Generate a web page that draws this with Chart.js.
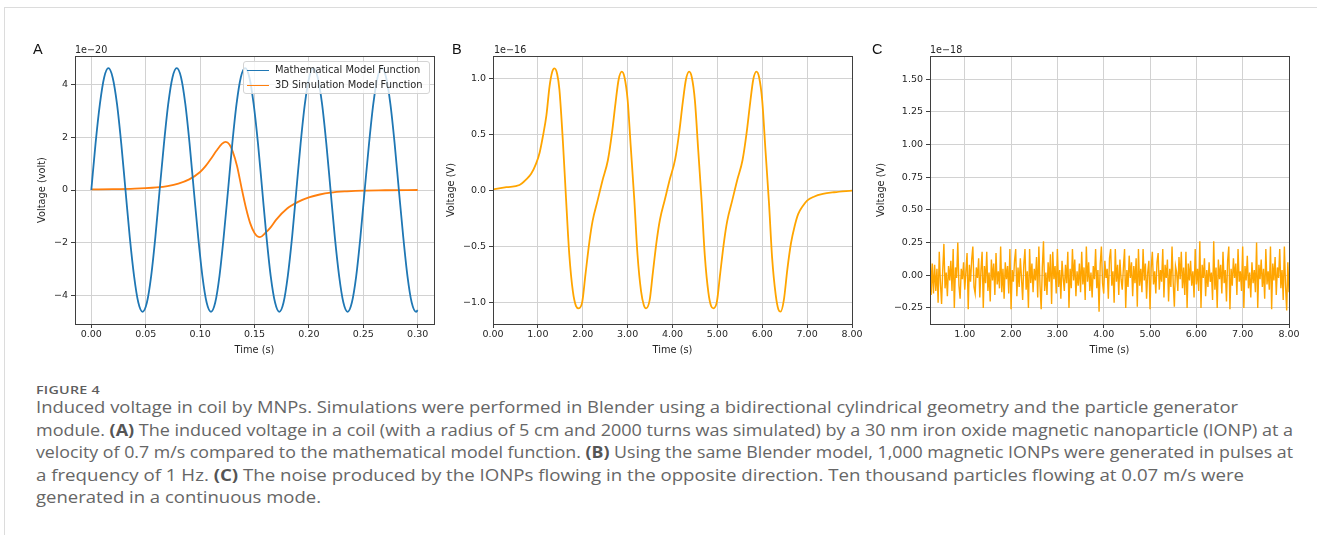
<!DOCTYPE html>
<html>
<head>
<meta charset="utf-8">
<script src="https://cdn.jsdelivr.net/npm/chart.js@4.4.0/dist/chart.umd.min.js"></script>
<style>
  html, body { margin: 0; padding: 0; background: #fff; }
  body { width: 1317px; height: 535px; position: relative; overflow: hidden; font-family: "DejaVu Sans", sans-serif; }
  .frame { position: absolute; left: 4px; top: 7px; width: 1330px; height: 540px; border-top: 1.5px solid #dcdcdc; border-left: 1.5px solid #dcdcdc; }
  canvas { position: absolute; }
  .panel { position: absolute; font-family: "Liberation Sans", Arial, sans-serif; font-size: 14.5px; line-height: 1; color: #111; }
  .offset { position: absolute; font-size: 9.6px; line-height: 1; color: #262626; }
  .legend { position: absolute; left: 243px; top: 61px; width: 185px; height: 31px; border: 1px solid #d4d4d4; border-radius: 3px; background: rgba(255,255,255,0.8); }
  .legend .sw { position: absolute; left: 3px; width: 22px; height: 0; border-top: 1.6px solid; }
  .legend .tx { position: absolute; left: 31px; font-size: 9.9px; line-height: 1; color: #262626; white-space: nowrap; }
  .cap, .caphead { position: absolute; left: 35.5px; white-space: nowrap; transform-origin: 0 0; font-family: "Open Sans", sans-serif; color: #666; }
  .caphead { font-size: 11.5px; font-weight: 600; line-height: 1; top: 384px; letter-spacing: 0.2px; color: #5e5e5e; }
  .cap { font-size: 16px; line-height: 22.5px; }
  .cap b { color: #555; font-weight: 700; }
</style>
</head>
<body>
<div class="frame"></div>

<canvas id="chartA" width="430" height="320" style="left:20px; top:40px;"></canvas>
<canvas id="chartB" width="430" height="320" style="left:440px; top:40px;"></canvas>
<canvas id="chartC" width="447" height="320" style="left:870px; top:40px;"></canvas>

<div class="panel" style="left:33px; top:42px;">A</div>
<div class="panel" style="left:452px; top:42px;">B</div>
<div class="panel" style="left:872px; top:42px;">C</div>
<div class="offset" style="left:75px; top:45px;">1e−20</div>
<div class="offset" style="left:494px; top:45px;">1e−16</div>
<div class="offset" style="left:930px; top:45px;">1e−18</div>

<div class="legend">
  <div class="sw" style="top:7.5px; border-color:#1f77b4;"></div>
  <div class="tx" style="top:3px;">Mathematical Model Function</div>
  <div class="sw" style="top:22.5px; border-color:#ff7f0e;"></div>
  <div class="tx" style="top:18px;">3D Simulation Model Function</div>
</div>

<div class="caphead" data-w="64">FIGURE 4</div>
<div class="cap" data-w="1202" style="top:396px;">Induced voltage in coil by MNPs. Simulations were performed in Blender using a bidirectional cylindrical geometry and the particle generator</div>
<div class="cap" data-w="1257" style="top:418.5px;">module. <b>(A)</b> The induced voltage in a coil (with a radius of 5 cm and 2000 turns was simulated) by a 30 nm iron oxide magnetic nanoparticle (IONP) at a</div>
<div class="cap" data-w="1257" style="top:441px;">velocity of 0.7 m/s compared to the mathematical model function. <b>(B)</b> Using the same Blender model, 1,000 magnetic IONPs were generated in pulses at</div>
<div class="cap" data-w="1208" style="top:463.5px;">a frequency of 1 Hz. <b>(C)</b> The noise produced by the IONPs flowing in the opposite direction. Ten thousand particles flowing at 0.07 m/s were</div>
<div class="cap" data-w="285" style="top:486px;">generated in a continuous mode.</div>

<script>
// ---- panel A: coil voltage, 1e-20 V ----
const mathTime = [0.0000, 0.0039, 0.0079, 0.0118, 0.0157, 0.0196, 0.0236, 0.0275, 0.0314, 0.0353, 0.0393, 0.0432, 0.0471, 0.0511, 0.0550, 0.0589,
                  0.0628, 0.0668, 0.0707, 0.0746, 0.0785, 0.0825, 0.0864, 0.0903, 0.0942, 0.0982, 0.1021, 0.1060, 0.1100, 0.1139, 0.1178, 0.1217,
                  0.1257, 0.1296, 0.1335, 0.1374, 0.1414, 0.1453, 0.1492, 0.1532, 0.1571, 0.1610, 0.1649, 0.1689, 0.1728, 0.1767, 0.1806, 0.1846,
                  0.1885, 0.1924, 0.1963, 0.2003, 0.2042, 0.2081, 0.2121, 0.2160, 0.2199, 0.2238, 0.2278, 0.2317, 0.2356, 0.2395, 0.2435, 0.2474,
                  0.2513, 0.2553, 0.2592, 0.2631, 0.2670, 0.2710, 0.2749, 0.2788, 0.2827, 0.2867, 0.2906, 0.2945, 0.2985, 0.3000];
const mathVolt = [0, 1.76, 3.25, 4.25, 4.60, 4.25, 3.25, 1.76, 0, -1.76, -3.25, -4.25, -4.60, -4.25, -3.25, -1.76,
                  0, 1.76, 3.25, 4.25, 4.60, 4.25, 3.25, 1.76, 0, -1.76, -3.25, -4.25, -4.60, -4.25, -3.25, -1.76,
                  0, 1.76, 3.25, 4.25, 4.60, 4.25, 3.25, 1.76, 0, -1.76, -3.25, -4.25, -4.60, -4.25, -3.25, -1.76,
                  0, 1.76, 3.25, 4.25, 4.60, 4.25, 3.25, 1.76, 0, -1.76, -3.25, -4.25, -4.60, -4.25, -3.25, -1.76,
                  0, 1.76, 3.25, 4.25, 4.60, 4.25, 3.25, 1.76, 0, -1.76, -3.25, -4.25, -4.60, -4.54];
const simTime = [0, 0.02, 0.04, 0.05, 0.06, 0.07, 0.08, 0.09, 0.10, 0.105, 0.11, 0.115, 0.12, 0.1235, 0.127, 0.13, 0.134,
                 0.138, 0.142, 0.146, 0.150, 0.155, 0.160, 0.165, 0.170, 0.180, 0.190, 0.200, 0.210, 0.220, 0.235, 0.250, 0.270, 0.300];
const simVolt = [0.02, 0.03, 0.05, 0.07, 0.10, 0.15, 0.24, 0.40, 0.68, 0.90, 1.18, 1.48, 1.74, 1.82, 1.72, 1.45, 0.90,
                 0.10, -0.65, -1.25, -1.62, -1.78, -1.62, -1.40, -1.12, -0.70, -0.45, -0.28, -0.17, -0.10, -0.05, -0.02, -0.01, 0.0];
const aTimeTicks = [0, 0.05, 0.10, 0.15, 0.20, 0.25, 0.30];
const aVoltTicks = [-4, -2, 0, 2, 4];

// ---- panel B: pulses, 1e-16 V ----
const pulseTime = [0.00, 0.30, 0.59, 0.74, 0.85, 0.96, 1.04, 1.11, 1.19, 1.26, 1.32, 1.37, 1.43, 1.48, 1.56, 1.63, 1.70, 1.78, 1.85, 1.91,
                   1.99, 2.06, 2.15, 2.22, 2.33, 2.44, 2.56, 2.65, 2.73, 2.80, 2.87, 2.93, 3.00, 3.07, 3.15, 3.22, 3.30, 3.36, 3.41,
                   3.49, 3.56, 3.65, 3.72, 3.83, 3.94, 4.06, 4.15, 4.23, 4.30, 4.37, 4.43, 4.50, 4.57, 4.65, 4.72, 4.80, 4.86, 4.91,
                   4.99, 5.06, 5.15, 5.22, 5.33, 5.44, 5.56, 5.65, 5.73, 5.80, 5.87, 5.93, 6.00, 6.07, 6.15, 6.22, 6.30, 6.36, 6.41,
                   6.48, 6.56, 6.64, 6.72, 6.80, 6.90, 7.00, 7.15, 7.35, 7.60, 8.00];
const pulseVolt = [0.01, 0.03, 0.05, 0.10, 0.15, 0.24, 0.34, 0.48, 0.67, 0.93, 1.06, 1.09, 1.04, 0.90, 0.42, -0.09, -0.57, -0.90, -1.03, -1.05,
                   -0.99, -0.75, -0.45, -0.27, -0.09, 0.09, 0.27, 0.51, 0.78, 0.99, 1.06, 1.01, 0.81, 0.39, -0.09, -0.57, -0.90, -1.02, -1.05,
                   -0.98, -0.74, -0.44, -0.26, -0.08, 0.10, 0.28, 0.52, 0.79, 0.99, 1.06, 1.01, 0.80, 0.38, -0.10, -0.58, -0.91, -1.03, -1.05,
                   -0.99, -0.75, -0.45, -0.27, -0.09, 0.09, 0.27, 0.51, 0.78, 0.99, 1.06, 1.01, 0.80, 0.37, -0.11, -0.60, -0.93, -1.06, -1.08,
                   -0.98, -0.70, -0.47, -0.32, -0.21, -0.14, -0.09, -0.055, -0.03, -0.015, 0.0];
const bTimeTicks = [0, 1, 2, 3, 4, 5, 6, 7, 8];
const bVoltTicks = [-1, -0.5, 0, 0.5, 1];

// ---- panel C: noise, 1e-18 V, sampled every 0.025 s from 0.25 s ----
const noiseStart = 0.25;
const noiseStep = 0.025;
const noiseVolt = [
  0.24, -0.15, 0.09, -0.14, 0.08, -0.12, 0.05, -0.21, 0.18, -0.06,
  -0.22, 0.04, 0.24, -0.10, 0.02, -0.16, 0.07, -0.04, 0.11, -0.12,
  0.20, -0.25, 0.06, -0.02, 0.25, -0.08, -0.18, 0.05, -0.03, 0.10,
  -0.11, 0.03, 0.17, -0.26, 0.08, -0.05, 0.12, 0.22, -0.09, -0.14,
  0.06, -0.02, 0.13, -0.17, 0.04, 0.18, -0.25, 0.07, -0.06, 0.18,
  -0.12, 0.02, -0.20, 0.12, -0.04, 0.09, -0.15, 0.17, -0.07, 0.03,
  -0.10, 0.22, -0.13, 0.05, -0.18, 0.10, -0.03, 0.07, -0.14, 0.20,
  -0.26, 0.04, -0.05, 0.11, 0.20, -0.16, 0.06, -0.09, 0.13, -0.02,
  -0.19, 0.08, 0.20, -0.11, 0.03, -0.25, 0.20, -0.06, 0.09, -0.13,
  0.05, -0.04, 0.14, -0.17, 0.22, -0.08, -0.26, 0.06, 0.26, -0.12,
  0.02, -0.15, 0.10, -0.05, 0.16, -0.22, 0.18, -0.03, 0.07, -0.14,
  0.20, -0.09, 0.04, -0.18, 0.11, -0.02, -0.12, 0.08, -0.06, 0.18,
  -0.25, 0.05, -0.10, 0.20, -0.04, 0.12, -0.16, 0.03, -0.08, 0.09,
  -0.13, 0.18, -0.07, 0.06, -0.19, 0.22, -0.05, 0.10, -0.12, 0.02,
  -0.17, 0.07, -0.03, 0.20, -0.10, 0.04, -0.28, 0.09, 0.22, -0.06,
  -0.14, 0.11, -0.02, 0.05, -0.18, 0.13, 0.20, -0.08, 0.03, -0.21,
  0.20, -0.05, 0.08, -0.15, 0.12, -0.03, -0.11, 0.06, 0.20, -0.25,
  0.04, -0.09, 0.15, -0.02, 0.10, -0.16, 0.07, -0.06, 0.13, -0.24,
  0.20, -0.08, 0.05, -0.13, 0.20, -0.04, 0.09, -0.18, 0.02, 0.11,
  -0.26, 0.06, 0.18, -0.07, 0.03, -0.14, 0.10, 0.17, -0.11, 0.04,
  -0.05, 0.20, -0.17, 0.08, -0.02, 0.12, -0.20, 0.05, -0.09, 0.22,
  -0.06, -0.24, 0.07, 0.02, -0.12, 0.14, -0.03, 0.18, -0.10, 0.06,
  -0.15, 0.18, -0.25, 0.09, -0.04, 0.11, -0.08, 0.03, -0.17, 0.20,
  -0.07, 0.05, -0.12, 0.26, -0.25, 0.08, -0.02, 0.13, -0.16, 0.04,
  -0.09, 0.10, -0.05, 0.02, -0.19, 0.26, -0.11, 0.06, -0.25, 0.12,
  -0.03, 0.08, -0.14, 0.18, -0.06, 0.04, -0.20, 0.11, 0.22, -0.26,
  0.05, -0.08, 0.13, -0.02, 0.09, -0.15, 0.20, -0.05, 0.03, -0.12,
  0.22, -0.25, 0.07, -0.04, 0.15, -0.10, 0.02, -0.17, 0.10, -0.06,
  0.04, -0.13, 0.25, -0.25, 0.08, -0.03, 0.12, -0.09, 0.05, -0.18,
  0.20, -0.07, 0.03, -0.11, 0.22, -0.26, 0.09, -0.04, 0.14, -0.15,
  0.06, -0.02, 0.20, -0.10, 0.04, -0.19, 0.22, -0.08, -0.27, 0.10,
  -0.13
];
const cTimeTicks = [1, 2, 3, 4, 5, 6, 7, 8];
const cVoltTicks = [-0.25, 0, 0.25, 0.5, 0.75, 1.0, 1.25, 1.5];

const TEXT = '#262626';
const GRID = '#d2d2d2';
const SPINE = '#3f3f3f';
const tickFont = { family: 'DejaVu Sans', size: 9.5 };
const labelFont = { family: 'DejaVu Sans', size: 9.8 };

Chart.defaults.font.family = 'DejaVu Sans';

// matplotlib-style box around the plot area
const boxPlugin = {
    id: 'box',
    afterDatasetsDraw(chart) {
        const { ctx, chartArea: a } = chart;
        ctx.save();
        ctx.strokeStyle = SPINE;
        ctx.lineWidth = 1;
        ctx.strokeRect(Math.round(a.left) + 0.5, Math.round(a.top) + 0.5, Math.round(a.right - a.left), Math.round(a.bottom - a.top));
        ctx.restore();
    }
};

const fmt = d => v => Number(v).toFixed(d).replace('-', '\u2212');
const pts = (xs, ys) => xs.map((x, i) => ({ x, y: ys[i] }));

function axis(o) {
    return {
        type: 'linear',
        min: o.min, max: o.max,
        afterBuildTicks: s => { s.ticks = o.ticks.map(v => ({ value: v })); },
        afterFit: s => { if (o.width) s.width = o.width; if (o.height) s.height = o.height; },
        grid: { color: GRID, lineWidth: 1, drawTicks: true, tickLength: 4, tickColor: SPINE, tickWidth: 1 },
        border: { display: false },
        ticks: { font: tickFont, color: TEXT, padding: o.pad, autoSkip: false, maxRotation: 0, callback: fmt(o.dec) },
        title: { display: true, text: o.title, font: labelFont, color: TEXT, padding: o.titlePad }
    };
}

function makeChart(id, datasets, padRight, xo, yo) {
    return new Chart(document.getElementById(id), {
        type: 'line',
        data: { datasets },
        options: {
            responsive: false, animation: false, devicePixelRatio: 1,
            layout: { padding: { left: 0, top: 16, right: padRight, bottom: 0 } },
            plugins: { legend: { display: false }, tooltip: { enabled: false } },
            elements: { point: { radius: 0 } },
            scales: { x: axis(xo), y: axis(yo) }
        },
        plugins: [boxPlugin]
    });
}

// Panel A
makeChart('chartA', [
    { label: 'Mathematical Model Function', data: pts(mathTime, mathVolt), borderColor: '#1f77b4', borderWidth: 1.8, cubicInterpolationMode: 'monotone' },
    { label: '3D Simulation Model Function', data: pts(simTime, simVolt), borderColor: '#ff7f0e', borderWidth: 1.8, cubicInterpolationMode: 'monotone' }
], 16,
    { min: -0.015, max: 0.315, ticks: aTimeTicks, dec: 2, height: 36, pad: 1, title: 'Time (s)', titlePad: { top: 0, bottom: 4 } },
    { min: -5.06, max: 5.06, ticks: aVoltTicks, dec: 0, width: 55, pad: 3, title: 'Voltage (volt)', titlePad: { top: 17, bottom: 0 } });

// Panel B
makeChart('chartB', [
    { label: 'Pulses', data: pts(pulseTime, pulseVolt), borderColor: '#ffa500', borderWidth: 1.8, cubicInterpolationMode: 'monotone' }
], 18,
    { min: 0, max: 8, ticks: bTimeTicks, dec: 2, height: 36, pad: 1, title: 'Time (s)', titlePad: { top: 0, bottom: 4 } },
    { min: -1.19, max: 1.2, ticks: bVoltTicks, dec: 1, width: 53, pad: 3, title: 'Voltage (V)', titlePad: { top: 6, bottom: 0 } });

// Panel C
makeChart('chartC', [
    { label: 'Noise', data: noiseVolt.map((v, i) => ({ x: noiseStart + i * noiseStep, y: v })), borderColor: '#ffa500', borderWidth: 1.4, tension: 0 }
], 28,
    { min: 0.25, max: 8, ticks: cTimeTicks, dec: 2, height: 36, pad: 1, title: 'Time (s)', titlePad: { top: 0, bottom: 4 } },
    { min: -0.373, max: 1.678, ticks: cVoltTicks, dec: 2, width: 60, pad: 3, title: 'Voltage (V)', titlePad: { top: 6, bottom: 0 } });

// stretch caption lines to the widths measured on the figure
document.querySelectorAll('[data-w]').forEach(el => {
    const w = el.getBoundingClientRect().width;
    el.style.transform = 'scaleX(' + (el.dataset.w / w) + ')';
});
</script>
</body>
</html>
